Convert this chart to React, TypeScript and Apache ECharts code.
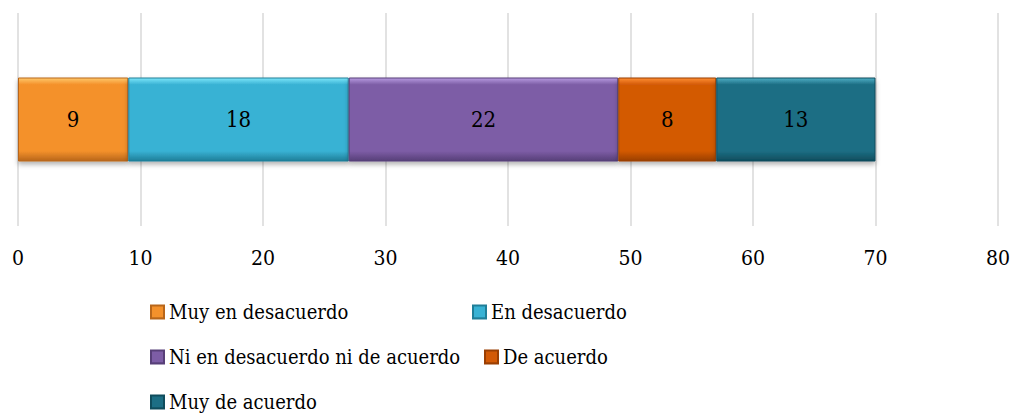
import React, { useEffect, useRef } from "react";
import * as echarts from "echarts";

const categories = ["Respuestas"];
const seriesNames = [
  "Muy en desacuerdo",
  "En desacuerdo",
  "Ni en desacuerdo ni de acuerdo",
  "De acuerdo",
  "Muy de acuerdo",
];
const seriesValues = [9, 18, 22, 8, 13];
const baseColors = ["#F4912B", "#38B2D4", "#7D5DA6", "#D35A06", "#1C6E84"];
const lightColors = ["#FFC86A", "#7EE6FA", "#B79BE0", "#FF8E33", "#4FAFC6"];
const darkColors = ["#B8661A", "#1F7E98", "#573F78", "#9A3F02", "#0F4C5C"];
const xTicks = { min: 0, max: 80, interval: 10 };

const FONT = "DejaVu Serif Condensed";

// Legend entries are laid out in rows: [left, top] for each series
const legendSpots: [number, number][] = [
  [145, 297],
  [467, 297],
  [145, 342],
  [479, 342],
  [145, 387],
];

function bevel(i: number) {
  return new echarts.graphic.LinearGradient(0, 0, 0, 1, [
    { offset: 0, color: lightColors[i] },
    { offset: 0.08, color: baseColors[i] },
    { offset: 0.88, color: baseColors[i] },
    { offset: 1, color: darkColors[i] },
  ]);
}

export default function App() {
  const ref = useRef<HTMLDivElement>(null);

  useEffect(() => {
    document.body.style.margin = "0";
    if (!ref.current) return;
    const chart = echarts.init(ref.current, null, { renderer: "svg" });

    const series = seriesNames.map((name, i) => ({
      name,
      type: "bar" as const,
      stack: "total",
      barWidth: 84,
      data: [seriesValues[i]],
      itemStyle: {
        color: bevel(i),
        borderColor: darkColors[i],
        borderWidth: 1,
        shadowBlur: 5,
        shadowOffsetY: 3,
        shadowColor: "rgba(0,0,0,0.3)",
      },
      label: {
        show: true,
        position: "inside" as const,
        color: "#000",
        fontSize: 22,
        fontFamily: FONT,
      },
    }));

    const legends = seriesNames.map((name, i) => ({
      data: [name],
      left: legendSpots[i][0],
      top: legendSpots[i][1],
      icon: "rect",
      itemWidth: 13,
      itemHeight: 13,
      selectedMode: false,
      textStyle: { fontSize: 20, fontFamily: FONT, color: "#000" },
    }));

    chart.setOption({
      animation: false,
      backgroundColor: "#fff",
      grid: { left: 18, right: 17, top: 13, height: 213, containLabel: false },
      xAxis: {
        type: "value",
        min: xTicks.min,
        max: xTicks.max,
        interval: xTicks.interval,
        axisLine: { show: false },
        axisTick: { show: false },
        splitLine: { lineStyle: { color: "#d9d9d9", width: 1.5 } },
        axisLabel: {
          fontSize: 21,
          fontFamily: FONT,
          color: "#000",
          margin: 21,
        },
      },
      yAxis: {
        type: "category",
        data: categories,
        show: false,
      },
      legend: legends,
      series,
    });

    return () => chart.dispose();
  }, []);

  return <div ref={ref} style={{ width: 1015, height: 414 }} />;
}
